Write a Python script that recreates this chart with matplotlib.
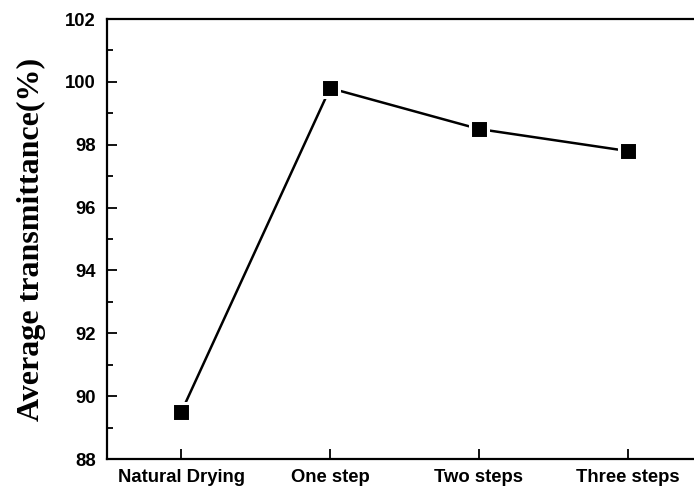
import matplotlib
matplotlib.use("Agg")
import matplotlib.pyplot as plt
from matplotlib.ticker import MultipleLocator

categories = ["Natural Drying", "One step", "Two steps", "Three steps"]
values = [89.5, 99.8, 98.5, 97.8]
yticks = [88, 90, 92, 94, 96, 98, 100, 102]

fig = plt.figure(figsize=(6.94, 4.87), dpi=100)
ax = fig.add_axes([107/694, 28/487, 595/694, 440/487])
x = list(range(len(categories)))
ax.plot(x, values, color="black", lw=1.8, marker="s", markersize=13,
        markerfacecolor="black", markeredgecolor="white", markeredgewidth=2.2)
ax.set_xlim(-0.5, 3.5)
ax.set_ylim(88, 102)
ax.set_xticks(x)
ax.set_xticklabels(categories)
ax.set_yticks(yticks)
ax.yaxis.set_minor_locator(MultipleLocator(1))
for s in ax.spines.values():
    s.set_linewidth(1.6)
ax.tick_params(axis="both", which="major", direction="in", length=7, width=1.3)
ax.tick_params(axis="y", which="minor", direction="in", length=4, width=1.3)
ax.tick_params(axis="x", which="major", pad=7)
ax.tick_params(axis="y", which="major", pad=8)
for lab in ax.get_xticklabels() + ax.get_yticklabels():
    lab.set_fontfamily("Liberation Sans")
    lab.set_fontweight("bold")
    lab.set_fontsize(13.3)
ax.set_ylabel("Average transmittance(%)", fontfamily="Liberation Serif",
              fontweight="bold", fontsize=23, labelpad=14)
fig.savefig("out.png", dpi=100)
